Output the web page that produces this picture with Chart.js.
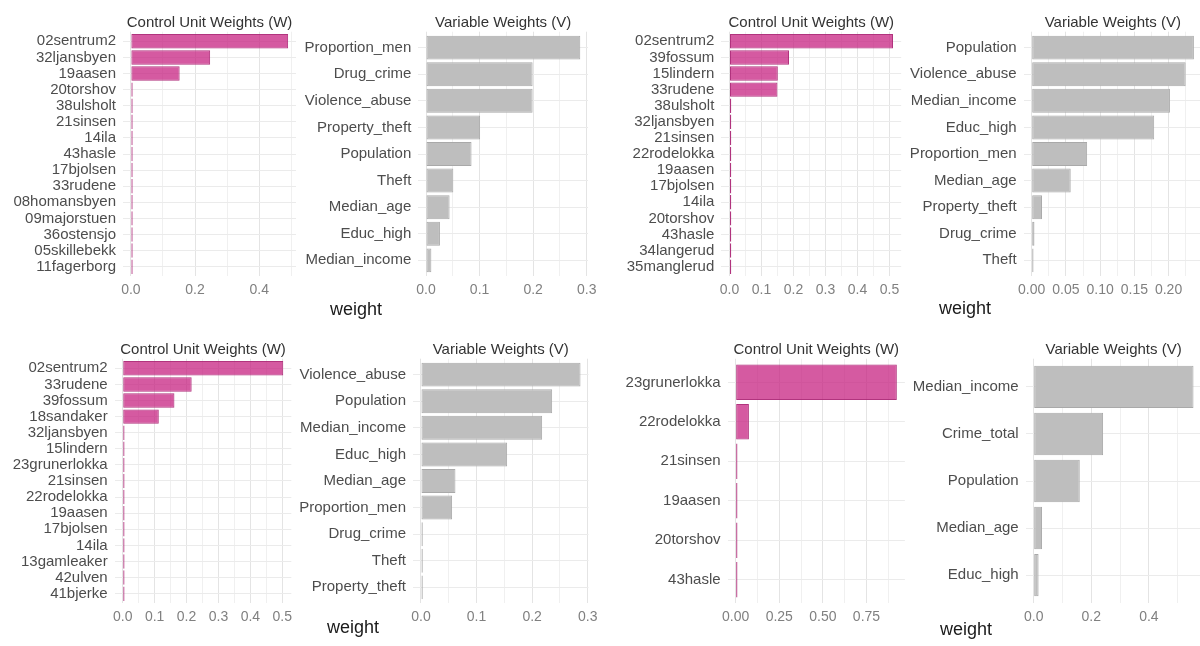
<!DOCTYPE html>
<html>
<head>
<meta charset="utf-8">
<script src="https://cdn.jsdelivr.net/npm/chart.js@4.4.1/dist/chart.umd.min.js"></script>
<style>
  html, body { margin: 0; padding: 0; background: #ffffff; }
  body { width: 1200px; height: 646px; overflow: hidden; position: relative; }
  canvas { position: absolute; }
</style>
</head>
<body>
<script>
// ---- Model 1 ----
const m1Units = ['02sentrum2', '32ljansbyen', '19aasen', '20torshov', '38ulsholt', '21sinsen', '14ila', '43hasle',
  '17bjolsen', '33rudene', '08homansbyen', '09majorstuen', '36ostensjo', '05skillebekk', '11fagerborg'];
const m1UnitWeights = [0.490, 0.247, 0.152, 0.002, 0.002, 0.002, 0.001, 0.001, 0.001, 0.001, 0.001, 0.001, 0.001, 0.001, 0.001];
const m1UnitTicks = ['0.0', '0.2', '0.4'];
const m1UnitMinor = [0.1, 0.3, 0.5];
const m1Vars = ['Proportion_men', 'Drug_crime', 'Violence_abuse', 'Property_theft', 'Population', 'Theft',
  'Median_age', 'Educ_high', 'Median_income'];
const m1VarWeights = [0.288, 0.199, 0.199, 0.101, 0.085, 0.051, 0.044, 0.026, 0.010];
const m1VarTicks = ['0.0', '0.1', '0.2', '0.3'];
const m1VarMinor = [0.05, 0.15, 0.25];

// ---- Model 2 ----
const m2Units = ['02sentrum2', '39fossum', '15lindern', '33rudene', '38ulsholt', '32ljansbyen', '21sinsen', '22rodelokka',
  '19aasen', '17bjolsen', '14ila', '20torshov', '43hasle', '34langerud', '35manglerud'];
const m2UnitWeights = [0.511, 0.186, 0.151, 0.150, 0.001, 0.001, 0.001, 0.001, 0.001, 0.001, 0.001, 0.001, 0.001, 0.001, 0.001];
const m2UnitTicks = ['0.0', '0.1', '0.2', '0.3', '0.4', '0.5'];
const m2UnitMinor = [0.05, 0.15, 0.25, 0.35, 0.45];
const m2Vars = ['Population', 'Violence_abuse', 'Median_income', 'Educ_high', 'Proportion_men', 'Median_age',
  'Property_theft', 'Drug_crime', 'Theft'];
const m2VarWeights = [0.237, 0.225, 0.202, 0.179, 0.081, 0.057, 0.015, 0.004, 0.001];
const m2VarTicks = ['0.00', '0.05', '0.10', '0.15', '0.20'];
const m2VarMinor = [0.025, 0.075, 0.125, 0.175, 0.225];

// ---- Model 3 ----
const m3Units = ['02sentrum2', '33rudene', '39fossum', '18sandaker', '32ljansbyen', '15lindern', '23grunerlokka', '21sinsen',
  '22rodelokka', '19aasen', '17bjolsen', '14ila', '13gamleaker', '42ulven', '41bjerke'];
const m3UnitWeights = [0.503, 0.216, 0.162, 0.113, 0.001, 0.001, 0.001, 0.001, 0.001, 0.001, 0.001, 0.001, 0.001, 0.001, 0.001];
const m3UnitTicks = ['0.0', '0.1', '0.2', '0.3', '0.4', '0.5'];
const m3UnitMinor = [0.05, 0.15, 0.25, 0.35, 0.45];
const m3Vars = ['Violence_abuse', 'Population', 'Median_income', 'Educ_high', 'Median_age', 'Proportion_men',
  'Drug_crime', 'Theft', 'Property_theft'];
const m3VarWeights = [0.287, 0.236, 0.218, 0.155, 0.062, 0.056, 0.001, 0.001, 0.001];
const m3VarTicks = ['0.0', '0.1', '0.2', '0.3'];
const m3VarMinor = [0.05, 0.15, 0.25];

// ---- Model 4 ----
const m4Units = ['23grunerlokka', '22rodelokka', '21sinsen', '19aasen', '20torshov', '43hasle'];
const m4UnitWeights = [0.924, 0.076, 0.001, 0.001, 0.001, 0.001];
const m4UnitTicks = ['0.00', '0.25', '0.50', '0.75'];
const m4UnitMinor = [0.125, 0.375, 0.625, 0.875];
const m4Vars = ['Median_income', 'Crime_total', 'Population', 'Median_age', 'Educ_high'];
const m4VarWeights = [0.555, 0.241, 0.160, 0.029, 0.017];
const m4VarTicks = ['0.0', '0.2', '0.4'];
const m4VarMinor = [0.1, 0.3, 0.5];

const FONT = '"Liberation Sans", Arial, Helvetica, sans-serif';
Chart.defaults.font.family = FONT;

const UNIT_TITLE = 'Control Unit Weights (W)';
const VAR_TITLE = 'Variable Weights (V)';
const AXIS_TITLE = 'weight';

const UNIT_STYLE = { fill: 'rgba(197, 27, 125, 0.72)', edge: 'rgba(168, 30, 112, 0.9)' };
const VAR_STYLE = { fill: '#bebebe', edge: '#a9a9a9' };

// Panel rows (plot-area top / bottom on the page)
const ROW_TOP = { t: 31.7, b: 276.3 };
const ROW_BOTTOM = { t: 358.7, b: 603.3 };

// Page layout: plot-area left/right edges and where the shared axis title sits
const panels = [
  { names: m1Units, values: m1UnitWeights, ticks: m1UnitTicks, minor: m1UnitMinor, style: UNIT_STYLE, title: UNIT_TITLE, row: ROW_TOP, left: 123.0, right: 296.0 },
  { names: m1Vars, values: m1VarWeights, ticks: m1VarTicks, minor: m1VarMinor, style: VAR_STYLE, title: VAR_TITLE, row: ROW_TOP, left: 418.3, right: 588.0, axisTitleAt: [356, 315] },
  { names: m2Units, values: m2UnitWeights, ticks: m2UnitTicks, minor: m2UnitMinor, style: UNIT_STYLE, title: UNIT_TITLE, row: ROW_TOP, left: 721.3, right: 901.2 },
  { names: m2Vars, values: m2VarWeights, ticks: m2VarTicks, minor: m2VarMinor, style: VAR_STYLE, title: VAR_TITLE, row: ROW_TOP, left: 1023.6, right: 1202.0, axisTitleAt: [965, 313.5] },
  { names: m3Units, values: m3UnitWeights, ticks: m3UnitTicks, minor: m3UnitMinor, style: UNIT_STYLE, title: UNIT_TITLE, row: ROW_BOTTOM, left: 114.7, right: 291.3 },
  { names: m3Vars, values: m3VarWeights, ticks: m3VarTicks, minor: m3VarMinor, style: VAR_STYLE, title: VAR_TITLE, row: ROW_BOTTOM, left: 413.0, right: 588.5, axisTitleAt: [353, 633] },
  { names: m4Units, values: m4UnitWeights, ticks: m4UnitTicks, minor: m4UnitMinor, style: UNIT_STYLE, title: UNIT_TITLE, row: ROW_BOTTOM, left: 727.6, right: 904.9 },
  { names: m4Vars, values: m4VarWeights, ticks: m4VarTicks, minor: m4VarMinor, style: VAR_STYLE, title: VAR_TITLE, row: ROW_BOTTOM, left: 1025.7, right: 1201.5, axisTitleAt: [966, 634.5] }
];

// Draws the panel heading centred over the plot area, plus the shared "weight" axis title
const panelText = {
  id: 'panelText',
  afterDraw(chart, args, opts) {
    const { ctx, chartArea } = chart;
    ctx.save();
    ctx.textAlign = 'center';
    ctx.textBaseline = 'alphabetic';
    ctx.font = '15px ' + FONT;
    ctx.fillStyle = '#333333';
    ctx.fillText(opts.title, (chartArea.left + chartArea.right) / 2, chartArea.top - 5);
    if (opts.axisTitle) {
      ctx.font = '18px ' + FONT;
      ctx.fillStyle = '#1a1a1a';
      ctx.fillText(opts.axisTitle.text, opts.axisTitle.x, opts.axisTitle.y);
    }
    ctx.restore();
  }
};

const LABEL_W = 150;   // room for the category labels
const PAD_TOP = 40;    // room for the heading
const AXIS_H = 45;     // room for tick labels under the plot
const PAD_RIGHT = 26;

panels.forEach((p) => {
  const cLeft = Math.floor(p.left - LABEL_W);
  const cTop = Math.floor(p.row.t - PAD_TOP);
  const cWidth = Math.ceil(p.right + PAD_RIGHT - cLeft);
  const cHeight = Math.ceil(p.row.b + AXIS_H - cTop);
  const yWidth = p.left - cLeft;
  const padTop = p.row.t - cTop;
  const padRight = cLeft + cWidth - p.right;
  const xHeight = cTop + cHeight - p.row.b;

  const canvas = document.createElement('canvas');
  canvas.width = cWidth;
  canvas.height = cHeight;
  canvas.style.left = cLeft + 'px';
  canvas.style.top = cTop + 'px';
  canvas.style.width = cWidth + 'px';
  canvas.style.height = cHeight + 'px';
  document.body.appendChild(canvas);

  const peak = Math.max(...p.values);
  const major = p.ticks.map(Number);
  const gridValues = major.concat(p.minor).sort((a, b) => a - b);
  const isMajor = (v) => major.some((m) => Math.abs(m - v) < 1e-9);
  const labelFor = (v) => {
    const i = major.findIndex((m) => Math.abs(m - v) < 1e-9);
    return i >= 0 ? p.ticks[i] : '';
  };

  new Chart(canvas, {
    type: 'bar',
    data: {
      datasets: [{
        data: p.values.map((v, i) => ({ x: v, y: i })),
        backgroundColor: p.style.fill,
        borderColor: p.style.edge,
        borderWidth: 1,
        borderSkipped: false,
        barPercentage: 0.9,
        categoryPercentage: 1,
        minBarLength: 1.8
      }]
    },
    options: {
      indexAxis: 'y',
      responsive: false,
      animation: false,
      devicePixelRatio: 1,
      layout: { padding: { left: 0, top: padTop, right: padRight, bottom: 0 } },
      plugins: {
        legend: { display: false },
        tooltip: { enabled: false },
        panelText: {
          title: p.title,
          axisTitle: p.axisTitleAt ? { text: AXIS_TITLE, x: p.axisTitleAt[0] - cLeft, y: p.axisTitleAt[1] - cTop } : null
        }
      },
      scales: {
        x: {
          type: 'linear',
          position: 'bottom',
          bounds: 'data',
          offset: false,
          beginAtZero: false,
          min: -0.05 * peak,
          max: 1.05 * peak,
          afterBuildTicks: (s) => { s.ticks = gridValues.map((v) => ({ value: v })); },
          afterFit: (s) => { s.height = xHeight; },
          ticks: {
            autoSkip: false, maxRotation: 0, minRotation: 0, padding: 7,
            color: '#808080', font: { size: 14, lineHeight: 1 },
            callback: (v) => labelFor(v)
          },
          grid: {
            offset: false, drawTicks: false, lineWidth: 1,
            color: (c) => (c.tick && isMajor(c.tick.value)) ? '#e4e4e4' : '#f0f0f0'
          },
          border: { display: false }
        },
        y: {
          type: 'linear',
          reverse: true,
          bounds: 'data',
          offset: false,
          min: -0.6,
          max: p.names.length - 0.4,
          afterBuildTicks: (s) => { s.ticks = p.names.map((_, i) => ({ value: i })); },
          afterFit: (s) => { s.width = yWidth; },
          ticks: {
            autoSkip: false, padding: 7, color: '#4d4d4d', font: { size: 15 },
            callback: (v) => p.names[v]
          },
          grid: { offset: false, drawTicks: false, lineWidth: 1, color: '#ebebeb' },
          border: { display: false }
        }
      }
    },
    plugins: [panelText]
  });
});
</script>
</body>
</html>
